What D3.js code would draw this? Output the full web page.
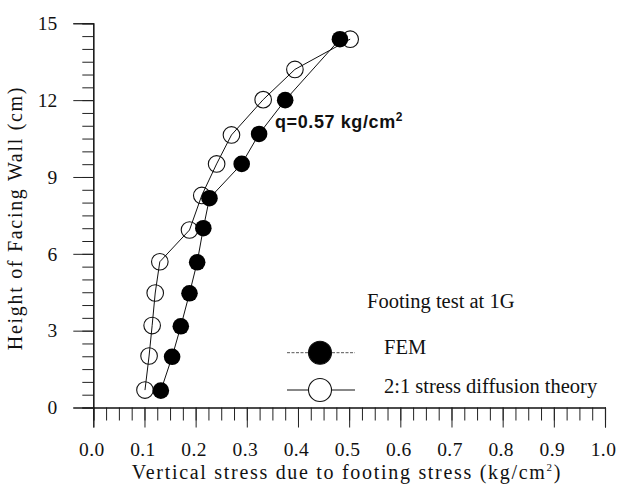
<!DOCTYPE html>
<html>
<head>
<meta charset="utf-8">
<script src="https://cdn.jsdelivr.net/npm/d3@7"></script>
<style>
  body { margin: 0; background: #fff; }
  svg { display: block; }
</style>
</head>
<body>
<div id="chart"></div>
<script>
// data
const femHeight = [0.66, 1.98, 3.17, 4.46, 5.67, 7.0, 8.17, 9.51, 10.68, 12.0, 14.38];
const femStress = [0.132, 0.154, 0.171, 0.188, 0.203, 0.215, 0.227, 0.290, 0.324, 0.375, 0.482];
const theoryHeight = [0.68, 2.01, 3.2, 4.47, 5.69, 6.93, 8.28, 9.51, 10.64, 12.02, 13.2, 14.38];
const theoryStress = [0.101, 0.109, 0.115, 0.121, 0.130, 0.188, 0.212, 0.241, 0.270, 0.332, 0.394, 0.502];
const xTicks = [0, 0.1, 0.2, 0.3, 0.4, 0.5, 0.6, 0.7, 0.8, 0.9, 1.0];
const yTicks = [0, 3, 6, 9, 12, 15];

const W = 621, H = 491;
const serif = "'Liberation Serif', 'Times New Roman', serif";
const sans = "'Liberation Sans', Arial, sans-serif";

const svg = d3.select("#chart")
  .append("svg")
    .attr("width", W)
    .attr("height", H);

const x = d3.scaleLinear().domain([0, 1]).range([93.3, 605]);
const y = d3.scaleLinear().domain([0, 15]).range([407.5, 23.3]);

// minor ticks
svg.append("g")
  .attr("transform", `translate(${x(0)},0)`)
  .call(d3.axisLeft(y).tickValues(d3.range(0, 15.01, 0.5)).tickSize(11).tickFormat(""));
svg.append("g")
  .attr("transform", `translate(0,${y(0)})`)
  .call(d3.axisBottom(x).tickValues(d3.range(0, 1.001, 0.025)).tickSize(13).tickFormat(""));

// major ticks + labels
const yAxis = svg.append("g")
  .attr("transform", `translate(${x(0)},0)`)
  .call(d3.axisLeft(y).tickValues(yTicks).tickSize(20).tickPadding(16).tickFormat(d3.format("d")));
const xAxis = svg.append("g")
  .attr("transform", `translate(0,${y(0)})`)
  .call(d3.axisBottom(x).tickValues(xTicks).tickSize(20).tickPadding(15).tickFormat(d3.format(".1f")));

svg.selectAll(".domain").attr("stroke", "#111").attr("stroke-width", 1.1);
svg.selectAll(".tick line").attr("stroke", "#222").attr("stroke-width", 1);
yAxis.selectAll("text").attr("font-family", serif).attr("font-size", 19.5).attr("fill", "#111");
xAxis.selectAll("text").attr("font-family", serif).attr("font-size", 19.5).attr("fill", "#111")
  .attr("dx", -2).attr("letter-spacing", 0.4);

// axis titles
svg.append("text")
  .attr("transform", "translate(22,218) rotate(-90)")
  .attr("text-anchor", "middle")
  .attr("font-family", serif)
  .attr("font-size", 20)
  .attr("letter-spacing", 1.7)
  .attr("fill", "#111")
  .text("Height of Facing Wall (cm)");

const xt = svg.append("text")
  .attr("x", 347)
  .attr("y", 479)
  .attr("text-anchor", "middle")
  .attr("font-family", serif)
  .attr("font-size", 20)
  .attr("letter-spacing", 1.7)
  .attr("fill", "#111");
xt.append("tspan").text("Vertical stress due to footing stress (kg/cm");
xt.append("tspan").attr("font-size", 11).attr("dy", -8).text("2");
xt.append("tspan").attr("dy", 8).text(")");

// lines
const line = d3.line().x(d => x(d[0])).y(d => y(d[1]));
const theoryPts = theoryStress.map((v, i) => [v, theoryHeight[i]]);
const femPts = femStress.map((v, i) => [v, femHeight[i]]);

svg.append("path").datum(theoryPts).attr("d", line)
  .attr("fill", "none").attr("stroke", "#111").attr("stroke-width", 1);
svg.append("path").datum(femPts).attr("d", line)
  .attr("fill", "none").attr("stroke", "#111").attr("stroke-width", 1);

// points
svg.selectAll(".open")
  .data(theoryPts)
  .join("circle")
  .attr("class", "open")
  .attr("cx", d => x(d[0]))
  .attr("cy", d => y(d[1]))
  .attr("r", 8.3)
  .attr("fill", "none")
  .attr("stroke", "#111")
  .attr("stroke-width", 1.1);

svg.selectAll(".fem")
  .data(femPts)
  .join("circle")
  .attr("class", "fem")
  .attr("cx", d => x(d[0]))
  .attr("cy", d => y(d[1]))
  .attr("r", 8.3)
  .attr("fill", "#000");

// annotation
const q = svg.append("text")
  .attr("x", 275)
  .attr("y", 128.3)
  .attr("font-family", sans)
  .attr("font-size", 18)
  .attr("font-weight", "bold")
  .attr("letter-spacing", 0.6)
  .attr("fill", "#111");
q.append("tspan").text("q=0.57 kg/cm");
q.append("tspan").attr("font-size", 12).attr("dy", -7).text("2");

// legend
svg.append("text")
  .attr("x", 367)
  .attr("y", 308.3)
  .attr("font-family", serif)
  .attr("font-size", 20.5)
  .attr("fill", "#111")
  .text("Footing test at 1G");

const legend = [
  {label: "FEM", filled: true, cy: 352.7, ty: 353.5},
  {label: "2:1 stress diffusion theory", filled: false, cy: 390, ty: 393.3}
];
const lg = svg.selectAll(".leg")
  .data(legend)
  .join("g")
  .attr("class", "leg");
lg.append("line")
  .attr("x1", 287).attr("x2", 355)
  .attr("y1", d => d.cy).attr("y2", d => d.cy)
  .attr("stroke", d => d.filled ? "#555" : "#111")
  .attr("stroke-width", 1)
  .attr("stroke-dasharray", d => d.filled ? "3,1.5" : null);
lg.append("circle")
  .attr("cx", 320)
  .attr("cy", d => d.cy)
  .attr("r", 11.5)
  .attr("fill", d => d.filled ? "#000" : "#fff")
  .attr("stroke", "#111")
  .attr("stroke-width", 1.1);
lg.append("text")
  .attr("x", 384)
  .attr("y", d => d.ty)
  .attr("font-family", serif)
  .attr("font-size", 20.5)
  .attr("fill", "#111")
  .text(d => d.label);
</script>
</body>
</html>
